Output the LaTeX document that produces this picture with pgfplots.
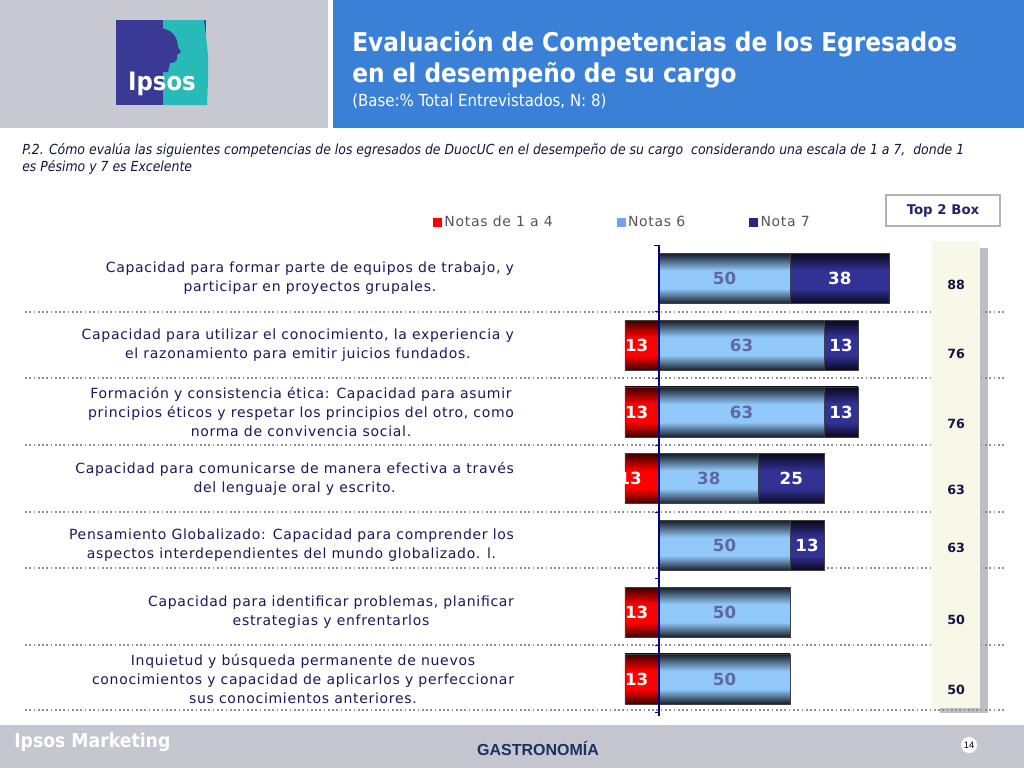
\documentclass[border=0pt]{standalone}
\usepackage{fontspec}
\setmainfont{DejaVu Sans}
\newfontfamily\cond{DejaVu Sans Condensed}[ItalicFont={DejaVu Sans Condensed Oblique},BoldFont={DejaVu Sans Condensed Bold}]
\newfontfamily\lblfont{DejaVu Sans}[LetterSpace=5]
\newfontfamily\arialf{Liberation Sans}
\usepackage{pgfplots}
\pgfplotsset{compat=1.18}
\definecolor{hdrgrey}{RGB}{200,200,210}
\definecolor{hdrblue}{RGB}{58,128,214}
\definecolor{ftgrey}{RGB}{198,198,208}
\definecolor{redlt}{RGB}{255,0,0}
\definecolor{reddk}{RGB}{60,0,0}
\definecolor{bluelt}{RGB}{145,200,250}
\definecolor{bluedk}{RGB}{22,30,40}
\definecolor{navylt}{RGB}{50,50,150}
\definecolor{navydk}{RGB}{8,8,30}
\definecolor{lblslate}{RGB}{95,105,160}
\definecolor{catcol}{RGB}{25,25,90}
\definecolor{legcol}{RGB}{85,85,85}
\definecolor{topnavy}{RGB}{35,35,110}
\definecolor{t2col}{RGB}{20,20,70}
\definecolor{cream}{RGB}{248,248,232}
\definecolor{shadowg}{RGB}{190,190,196}
\definecolor{dotg}{RGB}{145,145,145}
\definecolor{axnavy}{RGB}{0,0,128}
\definecolor{logopurple}{RGB}{58,58,150}
\definecolor{logoteal}{RGB}{40,185,185}
\definecolor{qcol}{RGB}{20,20,60}
\definecolor{gastro}{RGB}{25,50,100}
% TikZ maps the path's bounding box onto the 25bp--75bp part of a shading
\pgfdeclareverticalshading{redbar}{100bp}{color(0bp)=(reddk); color(25bp)=(reddk); color(40bp)=(redlt); color(58bp)=(redlt); color(75bp)=(reddk); color(100bp)=(reddk)}
\pgfdeclareverticalshading{bluebar}{100bp}{color(0bp)=(bluedk); color(25bp)=(bluedk); color(40bp)=(bluelt); color(58bp)=(bluelt); color(75bp)=(bluedk); color(100bp)=(bluedk)}
\pgfdeclareverticalshading{navybar}{100bp}{color(0bp)=(navydk); color(25bp)=(navydk); color(40bp)=(navylt); color(58bp)=(navylt); color(75bp)=(navydk); color(100bp)=(navydk)}
% one bar per plot, so that each bar gets its own shading
\newcommand{\onebar}[3]{\addplot[xbar, bar width=37.5pt, bar shift=0pt, shade, shading=#1, draw=black!75, line width=0.4pt, forget plot] coordinates {(#2,#3)};}
\begin{document}
\begin{tikzpicture}
\begin{scope}[x=0.75pt,y=-0.75pt]
\useasboundingbox[fill=white] (0,0) rectangle (1024,768);
% header
\fill[hdrgrey] (0,0) rectangle (328,128);
\fill[hdrblue] (333,0) rectangle (1024,128);
% logo
\fill[logopurple] (116,20) rectangle (206,105);
\fill[logoteal] (163,20) -- (204,20) .. controls (209,60) .. (207,105) -- (163,105) -- cycle;
\fill[logopurple] (155,44) circle (17);
\fill[logopurple] (158,28) .. controls (172,28) and (178,38) .. (178,47) -- (181,52) -- (177,55) .. controls (178,60) and (176,63) .. (170,63) -- (168,72) -- (148,72) -- cycle;
\node[text=white, font=\cond\bfseries\fontsize{19}{19}\selectfont, inner sep=0] at (162,84) {Ipsos};
% titles
\node[anchor=base west, text=white, font=\cond\bfseries\fontsize{19.4}{24}\selectfont, inner sep=0] at (352,51) {Evaluación de Competencias de los Egresados};
\node[anchor=base west, text=white, font=\cond\bfseries\fontsize{19.4}{24}\selectfont, inner sep=0] at (352,82) {en el desempeño de su cargo};
\node[anchor=base west, text=white, font=\cond\fontsize{12.5}{14}\selectfont, inner sep=0] at (352,106) {(Base:\% Total Entrevistados, N: 8)};
% question
\node[anchor=base west, text=qcol, font=\cond\itshape\fontsize{10.4}{12}\selectfont, inner sep=0] at (22,154) {P.2. Cómo evalúa las siguientes competencias de los egresados de DuocUC en el desempeño de su cargo\ \ considerando una escala de 1 a 7,\ \ donde 1};
\node[anchor=base west, text=qcol, font=\cond\itshape\fontsize{10.4}{12}\selectfont, inner sep=0] at (22,171) {es Pésimo y 7 es Excelente};
% top 2 box header
\draw[black!30, line width=1.2pt, fill=white] (886,195) rectangle (1000,226);
\node[text=topnavy, font=\bfseries\fontsize{10}{12}\selectfont, inner sep=0] at (943,210.5) {Top 2 Box};
% shadow of panel
\fill[shadowg] (980,248) rectangle (988,713);
\fill[shadowg] (940,708) rectangle (988,713);
% dotted separators
\foreach \yy in {312,378,445,512,568,645,710}
  \draw[dotg, line width=1.2pt, dash pattern=on 1.3pt off 1.9pt] (25,\yy) -- (1005,\yy);
% cream panel
\fill[cream] (932,241) rectangle (980,708);
% footer
\fill[ftgrey] (0,725) rectangle (1024,768);
\node[anchor=base west, text=white, font=\cond\bfseries\fontsize{14.4}{16}\selectfont, inner sep=0] at (14,747) {Ipsos Marketing};
\node[text=gastro, font=\arialf\bfseries\fontsize{12}{14}\selectfont, inner sep=0] at (538,748) {GASTRONOMÍA};
\fill[white] (969,745) circle (8);
\node[font=\arialf\fontsize{7}{7}\selectfont, inner sep=0] at (969,745) {14};
\end{scope}

\begin{axis}[
  at={(582.675pt,-359.04pt)}, anchor=center,
  scale only axis, width=334.05pt, height=350.44pt,
  xmin=-40, xmax=130, ymin=0.5, ymax=7.5, y dir=reverse,
  hide x axis, axis y line*=left, y axis line style={draw=none},
  ytick={1,2,3,4,5,6,7}, major tick length=0pt, ytick style={draw=none},
  yticklabels={
    {Capacidad para formar parte de equipos de trabajo, y\\participar en proyectos grupales.},
    {Capacidad para utilizar el conocimiento, la experiencia y\\el razonamiento para emitir juicios fundados.},
    {Formación y consistencia ética: Capacidad para asumir\\principios éticos y respetar los principios del otro, como\\norma de convivencia social.},
    {Capacidad para comunicarse de manera efectiva a través\\del lenguaje oral y escrito.},
    {Pensamiento Globalizado: Capacidad para comprender los\\aspectos interdependientes del mundo globalizado. l.},
    {Capacidad para identificar problemas, planificar\\estrategias y enfrentarlos},
    {Inquietud y búsqueda permanente de nuevos\\conocimientos y capacidad de aplicarlos y perfeccionar\\sus conocimientos anteriores.}},
  yticklabel style={align=center, font=\lblfont\fontsize{10.5}{14.25}\selectfont, text=catcol, inner sep=0pt, xshift=-30pt},
  clip=false,
  legend columns=3,
  legend style={at={(-0.2721,1.049)}, anchor=west, draw=none, fill=none,
    font=\lblfont\fontsize{10.5}{12}\selectfont, text=legcol, inner sep=0pt,
    /tikz/every even column/.append style={column sep=46pt}},
]
\addlegendimage{legend image code/.code={\fill[redlt] (0pt,-3pt) rectangle (6pt,3pt);}}
\addlegendentry{Notas de 1 a 4}
\addlegendimage{legend image code/.code={\fill[bluelt!80!blue] (0pt,-3pt) rectangle (6pt,3pt);}}
\addlegendentry{Notas 6}
\addlegendimage{legend image code/.code={\fill[navylt!80!black] (0pt,-3pt) rectangle (6pt,3pt);}}
\addlegendentry{Nota 7}
% Nota 7: drawn from 0 to the Top 2 Box total (Notas 6 + Nota 7), Notas 6 covers its first part
\onebar{navybar}{88}{1}
\onebar{navybar}{76}{2}
\onebar{navybar}{76}{3}
\onebar{navybar}{63}{4}
\onebar{navybar}{63}{5}
% Notas 6
\onebar{bluebar}{50}{1}
\onebar{bluebar}{63}{2}
\onebar{bluebar}{63}{3}
\onebar{bluebar}{38}{4}
\onebar{bluebar}{50}{5}
\onebar{bluebar}{50}{6}
\onebar{bluebar}{50}{7}
% Notas de 1 a 4
\onebar{redbar}{-13}{2}
\onebar{redbar}{-13}{3}
\onebar{redbar}{-13}{4}
\onebar{redbar}{-13}{6}
\onebar{redbar}{-13}{7}
% y axis line
\draw[axnavy, line width=1.1pt] (axis cs:0,0.5) -- (axis cs:0,7.55);
\draw[axnavy, line width=0.9pt] (axis cs:0,0.5) -- ++(-4pt,0pt);
\draw[axnavy, line width=0.9pt] (axis cs:0,1.5) -- ++(-3pt,0pt);
\draw[axnavy, line width=0.9pt] (axis cs:0,2.5) -- ++(-3pt,0pt);
\draw[axnavy, line width=0.9pt] (axis cs:0,3.5) -- ++(-3pt,0pt);
\draw[axnavy, line width=0.9pt] (axis cs:0,4.5) -- ++(-3pt,0pt);
\draw[axnavy, line width=0.9pt] (axis cs:0,5.5) -- ++(-3pt,0pt);
\draw[axnavy, line width=0.9pt] (axis cs:0,6.5) -- ++(-3pt,0pt);
\draw[axnavy, line width=0.9pt] (axis cs:0,7.5) -- ++(-3pt,0pt);
% labels: Notas 6 (slate)
\addplot[draw=none, mark=none, forget plot, nodes near coords, point meta=explicit symbolic,
  nodes near coords style={anchor=center, inner sep=0pt, font=\bfseries\fontsize{12.5}{13}\selectfont, text=lblslate}]
  coordinates {(25,1)[50] (31.5,2)[63] (31.5,3)[63] (19,4)[38] (25,5)[50] (25,6)[50] (25,7)[50]};
% labels: white (Nota 7 and Notas 1-4)
\addplot[draw=none, mark=none, forget plot, nodes near coords, point meta=explicit symbolic,
  nodes near coords style={anchor=center, inner sep=0pt, font=\bfseries\fontsize{12.5}{13}\selectfont, text=white}]
  coordinates {(69,1)[38] (69.5,2)[13] (69.5,3)[13] (50.5,4)[25] (56.5,5)[13]
               (-8.5,2)[13] (-8.5,3)[13] (-11,4)[13] (-8.5,6)[13] (-8.5,7)[13]};
% Top 2 Box values
\addplot[draw=none, mark=none, forget plot, nodes near coords, point meta=explicit symbolic,
  nodes near coords style={anchor=center, inner sep=0pt, font=\bfseries\fontsize{9.5}{10}\selectfont, text=t2col}]
  coordinates {(113.4,1.098)[88] (113.4,2.131)[76] (113.4,3.180)[76] (113.4,4.169)[63] (113.4,5.038)[63] (113.4,6.119)[50] (113.4,7.167)[50]};
\end{axis}
\end{tikzpicture}
\end{document}
